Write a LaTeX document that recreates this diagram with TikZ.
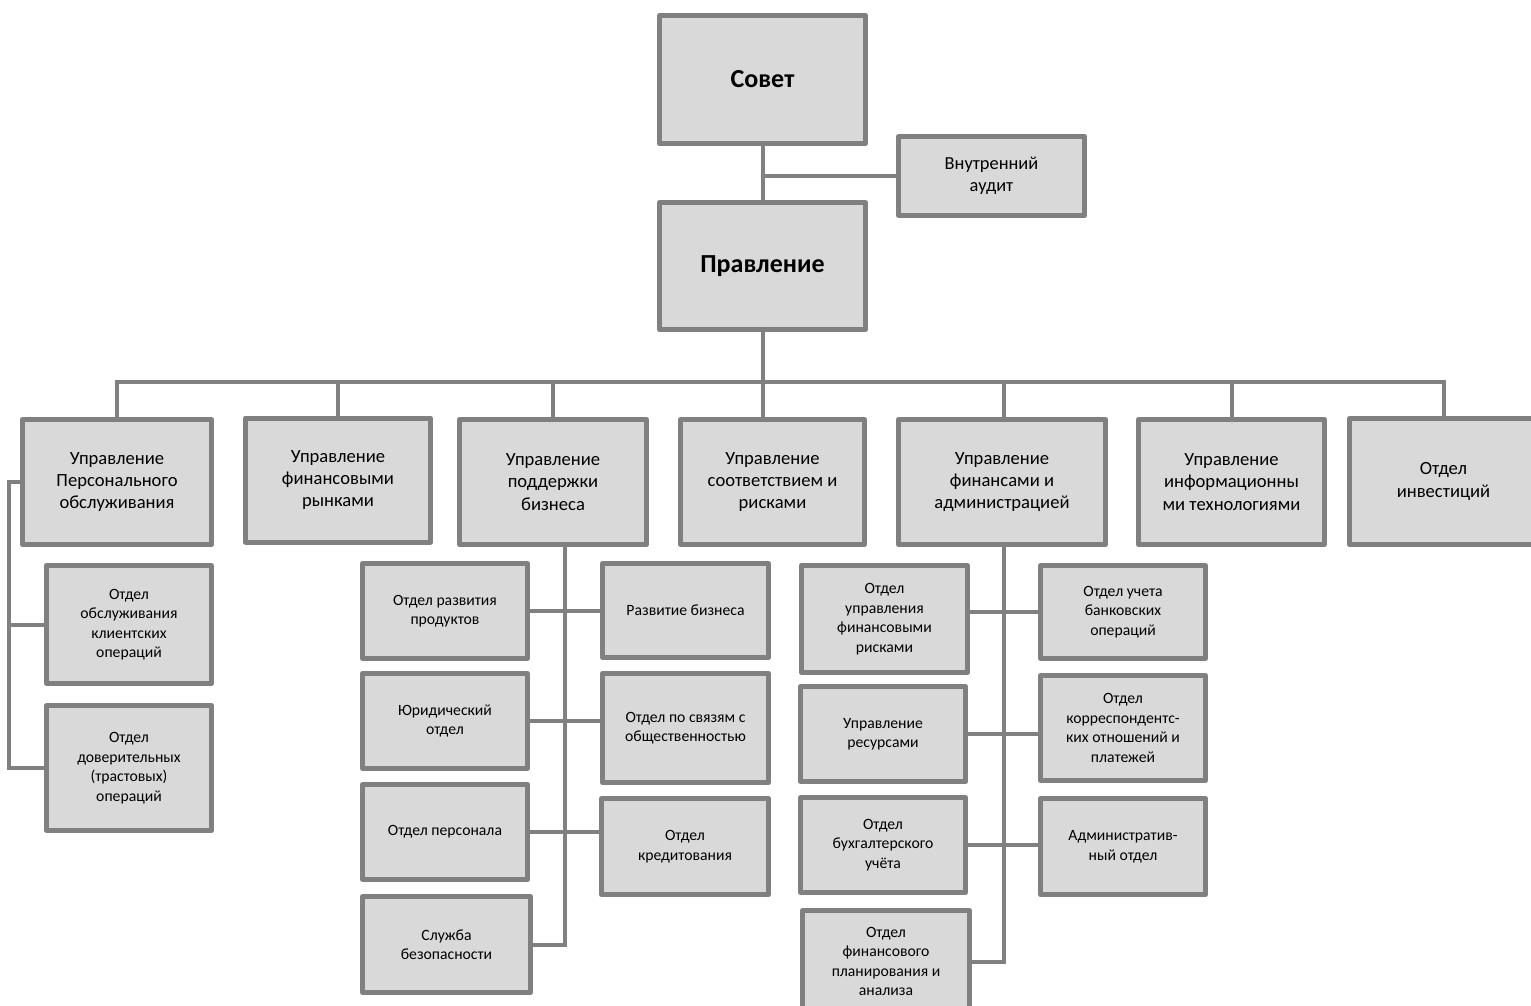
\documentclass[tikz,border=0pt]{standalone}
\usepackage{fontspec}
\setmainfont{Carlito}
\definecolor{boxfill}{HTML}{D9D9D9}
\definecolor{boxline}{HTML}{808080}
\begin{document}
\begin{tikzpicture}[x=1pt,y=-1pt,
  box/.style={draw=boxline, fill=boxfill, line width=5pt, line join=round, rectangle,
    inner sep=0pt, outer sep=0pt, align=center, text=black},
  topbox/.style={box, font=\fontsize{26}{30}\selectfont\bfseries},
  midbox/.style={box, font=\fontsize{18.6}{22.3}\selectfont},
  auditbox/.style={box, font=\fontsize{18.4}{22}\selectfont},
  subbox/.style={box, font=\fontsize{15.7}{19.5}\selectfont},
  conn/.style={draw=boxline, line width=4pt}]
\clip (0,0) rectangle (1531,1005);
\fill[white] (0,0) rectangle (1531,1005);

% top
\node[topbox, minimum width=206, minimum height=128] (sovet) at (762.5,79.5) {Совет};
\node[auditbox, minimum width=186, minimum height=79] (audit) at (991.5,176) {Внутренний\\аудит};
\node[topbox, minimum width=206, minimum height=127] (pr) at (762.5,266) {Правление};

% level 2
\node[midbox, minimum width=189, minimum height=125] (b1) at (117,482) {Управление\\Персонального\\обслуживания};
\node[midbox, minimum width=185, minimum height=124] (b2) at (338,480) {Управление\\финансовыми\\рынками};
\node[midbox, minimum width=187, minimum height=125] (b3) at (553,482) {Управление\\поддержки\\бизнеса};
\node[midbox, minimum width=184, minimum height=125] (b4) at (772.5,482) {Управление\\соответствием  и\\рисками};
\node[midbox, minimum width=207, minimum height=125] (b5) at (1002,482) {Управление\\финансами и\\администрацией};
\node[midbox, minimum width=186, minimum height=125] (b6) at (1231.5,482) {Управление\\информационны\\ми технологиями};
\node[midbox, minimum width=188, minimum height=126] (b7) at (1443.5,481.5) {Отдел\\инвестиций};

% b1 subs
\node[subbox, minimum width=165, minimum height=118] (s11) at (129,624.5) {Отдел\\обслуживания\\клиентских\\операций};
\node[subbox, minimum width=165, minimum height=125] (s12) at (129,768) {Отдел\\доверительных\\(трастовых)\\операций};

% b3 subs
\node[subbox, minimum width=165, minimum height=95] (s31) at (445,611) {Отдел развития\\продуктов};
\node[subbox, minimum width=165, minimum height=95] (s32) at (445,721) {Юридический\\отдел};
\node[subbox, minimum width=165, minimum height=95] (s33) at (445,832) {Отдел персонала};
\node[subbox, minimum width=168, minimum height=96] (s34) at (446.5,944.5) {Служба\\безопасности};
\node[subbox, minimum width=166, minimum height=94] (s35) at (685.5,610.5) {Развитие бизнеса};
\node[subbox, minimum width=166, minimum height=109] (s36) at (685.5,728) {Отдел по связям с\\общественностью};
\node[subbox, minimum width=167, minimum height=96] (s37) at (685,846.5) {Отдел\\кредитования};

% b5 subs
\node[subbox, minimum width=166, minimum height=107] (s51) at (884.5,619) {Отдел\\управления\\финансовыми\\рисками};
\node[subbox, minimum width=165, minimum height=95] (s52) at (883,734) {Управление\\ресурсами};
\node[subbox, minimum width=165, minimum height=95] (s53) at (883,845) {Отдел\\бухгалтерского\\учёта};
\node[subbox, minimum width=167, minimum height=102] (s54) at (886,961.5) {Отдел\\финансового\\планирования и\\анализа};
\node[subbox, minimum width=165, minimum height=93] (s55) at (1123,612) {Отдел учета\\банковских\\операций};
\node[subbox, minimum width=165, minimum height=105] (s56) at (1123,728) {Отдел\\корреспондентс-\\ких отношений  и\\платежей};
\node[subbox, minimum width=165, minimum height=96] (s57) at (1123,846.5) {Административ-\\ный отдел};

% helper coordinates
\coordinate (bus) at (0,382);
\coordinate (l1) at (9,0);
\coordinate (t3) at (565,0);
\coordinate (t5) at (1004,0);

% top connectors
\draw[conn] (sovet.south) -- (pr.north);
\draw[conn] (audit.west) -- (audit.west -| sovet.south);

% bus
\draw[conn] (pr.south) -- (pr.south |- b4.north);
\draw[conn] (b1.north) -- (b1.north |- bus) -| (b7.north);
\draw[conn] (b2.north) -- (b2.north |- bus);
\draw[conn] (b3.north) -- (b3.north |- bus);
\draw[conn] (b5.north -| t5) -- (t5 |- bus);
\draw[conn] (b6.north) -- (b6.north |- bus);

% b1 branch
\draw[conn] (b1.west) -| (s12.west -| l1) -- (s12.west);
\draw[conn] (s11.west) -- (s11.west -| l1);

% b3 branch
\draw[conn] (b3.south -| t3) -- (s34.east -| t3) -- (s34.east);
\draw[conn] (s31.east) -- (s31.east -| s35.west);
\draw[conn] (s32.east) -- (s32.east -| s36.west);
\draw[conn] (s33.east) -- (s33.east -| s37.west);

% b5 branch
\draw[conn] (b5.south -| t5) -- (s54.east -| t5) -- (s54.east);
\draw[conn] (s55.west) -- (s55.west -| s51.east);
\draw[conn] (s52.east) -- (s52.east -| s56.west);
\draw[conn] (s53.east) -- (s53.east -| s57.west);
\end{tikzpicture}
\end{document}
